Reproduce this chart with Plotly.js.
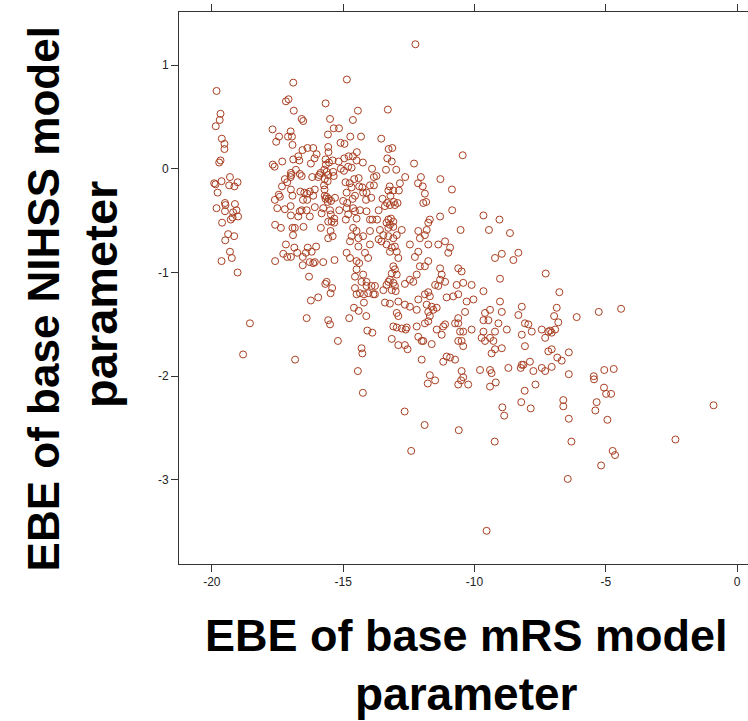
<!DOCTYPE html>
<html>
<head>
<meta charset="utf-8">
<script src="https://cdn.plot.ly/plotly-3.0.1.min.js"></script>
<style>
  html, body { margin: 0; padding: 0; overflow: hidden; background: #fff; }
  #chart { width: 760px; height: 721px; }
</style>
</head>
<body>
<div id="chart"></div>
<script>
// EBE of base mRS model parameter (x) vs EBE of base NIHSS model parameter (y)
const mrsEBE = [
-19.82,-16.90,-14.86,-19.67,-19.70,-19.85,-17.18,-17.08,-16.88,-15.67,-14.44,-16.58,-16.52,-15.50,-14.63,-17.69,-19.62,-19.52,-19.52,-19.67,
-19.72,-17.44,-17.55,-17.10,-17.00,-16.95,-16.93,-15.36,-15.16,-15.58,-15.10,-14.95,-14.73,-14.32,-16.55,-16.36,-16.14,-15.57,-15.56,-16.01,
-16.09,-14.48,-16.71,-16.90,-16.67,-17.32,-16.23,-15.67,-15.54,-15.40,-15.66,-15.17,-14.96,-14.79,-14.63,-14.49,-14.25,-15.09,-14.81,-14.68,
-13.90,-17.68,-17.61,-16.99,-16.97,-17.00,-16.80,-16.65,-16.58,-16.18,-15.91,-15.95,-15.86,-15.72,-15.63,-15.57,-15.38,-15.70,-15.59,-15.36,
-14.97,-14.91,-14.75,-14.58,-14.41,-14.68,-14.39,-14.27,-14.11,-13.98,-13.83,-19.91,-19.86,-19.63,-19.78,-19.31,-19.34,-19.14,-19.02,-19.50,
-19.12,-17.33,-17.45,-17.41,-17.22,-17.13,-16.99,-16.93,-16.63,-16.48,-16.37,-16.27,-16.14,-16.53,-16.37,-16.08,-15.73,-15.71,-15.70,-15.67,
-15.63,-15.55,-15.59,-15.46,-15.31,-15.00,-14.85,-14.64,-14.55,-14.24,-14.13,-13.93,-13.83,-14.87,-17.60,
-12.25,-13.30,-13.55,-13.27,-13.13,-13.32,-13.15,-10.45,-12.30,-13.37,-12.98,-13.73,-12.64,-12.04,-12.15,-11.97,-11.30,-12.84,-13.23,-12.88,
-13.28,-13.09,-13.20,-10.86,-11.89,-13.50,-13.33,-13.07,-12.93,-11.95,-11.84,
-19.82,-19.50,-19.48,-19.19,-19.06,-19.00,-19.28,-19.21,-19.61,-19.38,-19.15,-19.49,-19.31,-19.24,-19.63,-19.02,-18.55,-18.81,-17.51,-17.22,
-17.00,-16.99,-16.71,-16.65,-16.58,-16.39,-16.27,-16.08,-17.59,-17.37,-16.93,-16.84,-16.91,-16.51,-15.85,-15.76,-15.82,-15.50,-15.47,-15.57,
-15.44,-15.34,-15.57,-15.40,-15.48,-15.34,-15.15,-14.87,-14.81,-14.90,-14.55,-14.49,-14.62,-14.36,-14.11,-13.89,-17.18,-17.28,-17.13,-16.99,
-16.86,-16.75,-16.54,-16.42,-16.35,-16.20,-16.03,-17.59,-16.54,-16.27,-16.14,-16.08,-15.76,-15.33,-16.30,-15.63,-15.68,-15.42,-15.48,-15.95,
-16.23,-16.39,-15.57,-15.50,-15.20,-16.83,-14.30,-14.27,-14.44,-14.77,-14.59,-14.41,-14.12,-14.08,-13.89,-14.21,-14.49,-14.55,-14.36,-14.21,
-14.05,-14.11,-13.92,-13.85,-14.30,-14.55,-14.24,-14.11,-14.49,-14.39,-14.17,-14.05,-13.98,-14.49,-14.74,-14.87,-14.74,-14.42,-14.42,-14.24,
-14.49,-14.68,-13.98,-14.62,-13.98,
-13.28,-13.18,-13.09,-13.35,-13.22,-13.09,-13.28,-13.41,-13.22,-13.03,-13.65,-13.71,-13.60,-13.47,-13.65,-13.54,-13.28,-13.09,-12.96,-12.77,
-13.35,-13.15,-13.03,-13.22,-12.96,-12.90,-13.09,-13.03,-13.15,-12.96,-13.22,-13.09,-13.03,-13.28,-13.35,-13.15,-13.00,-13.47,-13.79,-13.41,
-13.22,-13.79,-12.90,-12.65,-12.46,-12.20,-12.14,-11.89,-11.76,-11.70,-11.82,-11.63,-11.76,-11.57,-11.44,-12.96,-12.90,-13.09,-12.96,-12.77,
-12.62,-12.58,-13.15,-12.90,-12.55,-12.65,-12.20,-11.89,-11.76,-11.70,-11.95,-11.63,-11.44,-11.19,-11.12,-11.25,-10.74,-10.62,-12.46,-12.14,
-12.08,-11.89,-11.82,-11.76,-11.70,-11.31,-10.85,-11.76,-12.27,-12.14,-12.08,-11.76,-11.31,-11.25,-11.31,-11.38,-11.12,-11.50,-11.89,-12.20,
-12.33,-12.46,-12.65,-11.38,-11.12,-10.93,-11.00,-10.62,-10.49,-10.68,-10.43,-10.11,-10.62,-10.81,-11.06,-10.30,-10.36,-10.04,-9.66,-9.60,
-9.47,-9.66,-9.41,-9.03,-8.96,-9.09,-9.41,-9.60,-9.22,-9.35,-8.96,-8.77,-8.20,-8.33,-8.08,-7.95,-7.82,-8.20,-8.08,-8.20,
-7.89,-7.44,-7.19,-7.31,-7.19,-7.44,-7.31,-8.52,-8.33,-8.96,-9.22,-9.03,-7.29,-8.65,-9.05,-9.66,-9.45,-10.53,-12.01,-11.70,
-11.19,-11.06,-10.93,-10.74,-10.49,-10.43,-9.79,-9.41,-9.35,-8.71,-8.24,-8.14,-7.76,-10.49,-10.43,-10.62,-10.55,-10.43,-10.11,-9.73,
-9.66,-9.28,-9.22,-10.62,-12.14,-12.01,
-6.77,-6.87,-6.97,-6.81,-6.93,-7.06,-7.12,-6.11,-5.27,-4.42,-7.06,-6.85,-6.68,-6.41,-7.06,-6.41,-5.46,-5.06,-4.70,
-14.25,
-11.78,-11.50,-10.62,-10.51,-10.24,-9.41,-9.19,-7.68,-8.09,-8.22,-7.86,-8.94,-8.87,-12.66,-11.90,-10.60,-9.23,-12.41,-9.54,
-5.45,-5.07,-4.99,-4.80,-6.62,-6.62,-5.35,-5.40,-6.41,-4.94,-0.90,-2.35,-6.31,-4.74,-4.65,-5.18,-6.45
];
const nihssEBE = [
0.75,0.83,0.86,0.53,0.47,0.41,0.65,0.67,0.56,0.63,0.56,0.48,0.46,0.48,0.47,0.38,0.29,0.24,0.19,0.08,
0.06,0.31,0.26,0.31,0.36,0.31,0.23,0.39,0.39,0.33,0.25,0.24,0.31,0.31,0.18,0.20,0.20,0.21,0.16,0.14,
0.10,0.16,0.12,0.09,0.08,0.07,0.05,0.09,0.06,0.08,0.04,0.07,0.10,0.12,0.12,0.08,0.06,0.00,0.02,0.01,
0.00,0.04,0.02,-0.04,-0.06,-0.08,-0.01,-0.05,-0.07,-0.08,-0.06,-0.08,-0.04,-0.01,-0.03,-0.06,-0.03,-0.10,-0.12,-0.07,
-0.02,-0.13,-0.14,-0.10,-0.09,-0.18,-0.17,-0.18,-0.23,-0.16,-0.16,-0.14,-0.15,-0.12,-0.23,-0.08,-0.16,-0.17,-0.13,-0.33,
-0.34,-0.17,-0.25,-0.27,-0.10,-0.13,-0.20,-0.26,-0.22,-0.23,-0.24,-0.22,-0.26,-0.30,-0.30,-0.20,-0.16,-0.20,-0.26,-0.29,
-0.27,-0.29,-0.32,-0.31,-0.28,-0.31,-0.33,-0.29,-0.26,-0.23,-0.30,-0.28,-0.08,-0.23,-0.30,
1.20,0.57,0.29,0.19,0.20,0.10,0.07,0.13,0.05,-0.01,-0.01,-0.07,-0.08,-0.08,-0.14,-0.17,-0.10,-0.14,-0.17,-0.21,
-0.21,-0.21,-0.26,-0.20,-0.24,-0.29,-0.33,-0.32,-0.33,-0.33,-0.32,
-0.38,-0.41,-0.35,-0.42,-0.40,-0.46,-0.49,-0.47,-0.52,-0.63,-0.65,-0.69,-0.80,-0.86,-0.89,-1.00,-1.49,-1.79,-0.38,-0.39,
-0.36,-0.45,-0.46,-0.41,-0.40,-0.40,-0.46,-0.37,-0.54,-0.57,-0.57,-0.57,-0.64,-0.56,-0.57,-0.38,-0.43,-0.40,-0.44,-0.51,
-0.51,-0.52,-0.67,-0.65,-0.60,-0.48,-0.40,-0.38,-0.44,-0.49,-0.41,-0.48,-0.38,-0.40,-0.41,-0.49,-0.73,-0.82,-0.85,-0.85,
-0.76,-0.81,-0.85,-0.81,-0.76,-0.80,-0.75,-0.89,-0.93,-0.90,-0.91,-0.90,-0.90,-0.88,-1.04,-1.09,-1.11,-1.15,-1.20,-1.24,
-1.27,-1.44,-1.46,-1.50,-1.66,-1.84,-1.73,-1.78,-1.95,-1.44,-1.34,-1.37,-1.42,-1.56,-1.58,-1.29,-1.21,-1.15,-1.20,-1.21,
-1.20,-1.13,-1.13,-1.21,-1.09,-1.04,-1.02,-1.09,-0.97,-0.91,-0.81,-0.86,-0.73,-0.89,-0.86,-0.81,-0.70,-0.75,-0.67,-0.65,
-0.60,-0.65,-0.60,-0.57,-0.49,
-0.49,-0.48,-0.51,-0.52,-0.54,-0.56,-0.57,-0.36,-0.35,-0.35,-0.40,-0.49,-0.59,-0.64,-0.68,-0.70,-0.65,-0.67,-0.64,-0.59,
-0.73,-0.76,-0.75,-0.80,-0.80,-0.86,-0.94,-0.97,-1.01,-1.02,-1.07,-1.10,-1.13,-1.09,-1.12,-1.17,-1.18,-1.17,-1.13,-1.29,
-1.30,-1.21,-1.28,-1.31,-1.33,-1.36,-1.26,-1.21,-1.19,-1.23,-1.31,-1.33,-1.38,-1.36,-1.34,-1.39,-1.42,-1.52,-1.53,-1.54,
-1.55,-1.53,-1.64,-1.70,-1.74,-1.70,-1.52,-1.49,-1.47,-1.42,-1.66,-1.69,-1.55,-1.52,-1.50,-1.60,-1.49,-1.44,-0.73,-0.60,
-0.67,-0.64,-0.59,-0.52,-0.49,-0.46,-0.40,-0.73,-0.85,-0.80,-0.94,-0.89,-0.96,-1.02,-1.07,-1.13,-1.09,-1.12,-0.94,-1.02,
-1.09,-1.07,-1.11,-0.73,-0.70,-0.76,-0.81,-0.96,-0.99,-1.12,-1.10,-1.12,-1.21,-1.23,-1.24,-1.28,-1.38,-1.26,-1.18,-1.39,
-1.46,-1.46,-1.36,-1.28,-1.38,-1.49,-1.63,-1.66,-1.74,-1.78,-1.73,-1.55,-1.33,-1.41,-1.49,-1.50,-1.57,-1.60,-1.71,-1.89,
-1.86,-1.55,-1.57,-1.63,-1.76,-1.92,-1.95,-0.88,-0.81,-0.82,-0.86,-1.06,-1.01,-0.62,-0.49,-0.45,-0.59,-0.59,-1.84,-1.99,
-1.86,-1.81,-1.82,-1.84,-1.95,-2.01,-1.94,-1.94,-1.97,-1.92,-1.92,-1.89,-1.95,-1.66,-1.71,-1.66,-1.57,-1.57,-1.55,-1.63,
-1.57,-1.66,-1.57,-1.49,-1.62,-1.66,
-1.19,-1.34,-1.42,-1.48,-1.55,-1.58,-1.56,-1.43,-1.38,-1.35,-1.74,-1.82,-1.85,-1.77,-1.91,-1.98,-2.00,-1.94,-1.93,
-2.16,
-2.07,-2.04,-2.08,-2.04,-2.08,-2.10,-2.06,-2.08,-2.14,-2.25,-2.31,-2.30,-2.38,-2.34,-2.47,-2.52,-2.63,-2.72,-3.49,
-2.03,-2.11,-2.17,-2.17,-2.23,-2.29,-2.25,-2.33,-2.41,-2.42,-2.28,-2.61,-2.63,-2.72,-2.76,-2.86,-2.99
];
const xTicks = [-20, -15, -10, -5, 0];
const yTicks = [-3, -2, -1, 0, 1];
const xTitleLines = ["EBE of base mRS model", "parameter"];
const yTitleLines = ["EBE of base NIHSS model", "parameter"];

const axisCommon = {
  showgrid: false, zeroline: false, showline: true, linecolor: '#333', linewidth: 1,
  mirror: 'ticks', ticks: 'outside', ticklen: 7, tickwidth: 1, tickcolor: '#333',
  tickfont: { family: 'Liberation Sans, Arial, sans-serif', size: 12, color: '#222' }
};
const titleFont = { family: 'Liberation Sans, Arial, sans-serif', size: 45, color: '#000', weight: 'bold' };

const trace = {
  type: 'scatter', mode: 'markers', x: mrsEBE, y: nihssEBE,
  marker: { symbol: 'circle-open', size: 7, color: '#a83e20', line: { width: 1 } },
  hoverinfo: 'skip'
};

const layout = {
  width: 760, height: 721,
  margin: { l: 179, r: 11, t: 12, b: 157 },
  paper_bgcolor: '#fff', plot_bgcolor: '#fff', showlegend: false,
  xaxis: Object.assign({}, axisCommon, { range: [-21.25, 0.45], tickvals: xTicks, ticktext: xTicks.map(String) }),
  yaxis: Object.assign({}, axisCommon, { range: [-3.81, 1.511], tickvals: yTicks, ticktext: yTicks.map(String) }),
  annotations: [
    { text: '<b>' + xTitleLines[0] + '</b>', xref: 'paper', yref: 'paper', x: 0.505, y: -0.130, xanchor: 'center', yanchor: 'middle', showarrow: false, font: titleFont },
    { text: '<b>' + xTitleLines[1] + '</b>', xref: 'paper', yref: 'paper', x: 0.505, y: -0.236, xanchor: 'center', yanchor: 'middle', showarrow: false, font: Object.assign({}, titleFont, { size: 46 }) },
    { text: '<b>' + yTitleLines[0] + '</b>', xref: 'paper', yref: 'paper', x: -0.238, y: 0.48, xanchor: 'center', yanchor: 'middle', textangle: -90, showarrow: false, font: Object.assign({}, titleFont, { size: 44 }) },
    { text: '<b>' + yTitleLines[1] + '</b>', xref: 'paper', yref: 'paper', x: -0.138, y: 0.488, xanchor: 'center', yanchor: 'middle', textangle: -90, showarrow: false, font: Object.assign({}, titleFont, { size: 47 }) }
  ]
};

Plotly.newPlot('chart', [trace], layout, { displayModeBar: false, staticPlot: true });
</script>
</body>
</html>
